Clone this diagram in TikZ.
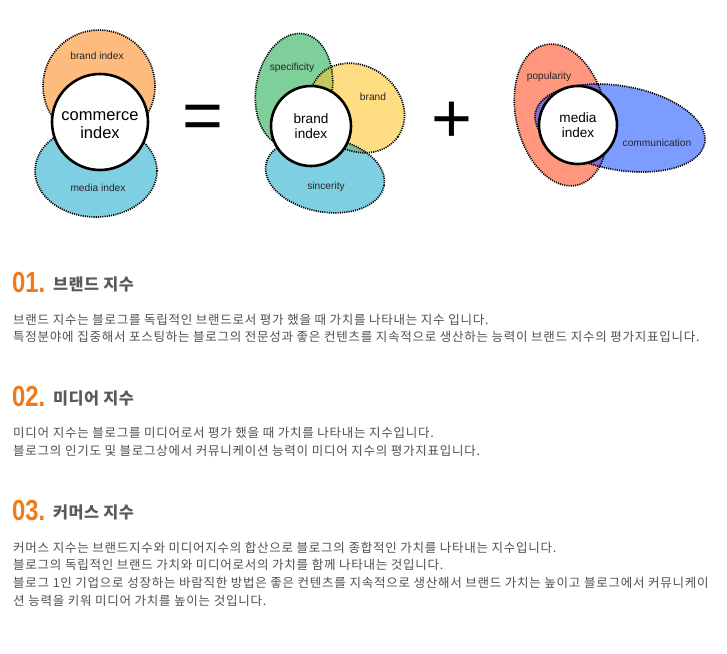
\documentclass[tikz,border=0pt]{standalone}
\usepackage{graphicx}
\usepackage{fontspec}
\setmainfont{Liberation Sans}
\newfontfamily\kr[LetterSpace=6]{Noto Sans CJK KR}
\newfontfamily\krh[LetterSpace=3]{Noto Sans CJK KR}
\definecolor{orA}{HTML}{FDBB7E}
\definecolor{blA}{HTML}{7FCFE2}
\definecolor{grB}{HTML}{7ECF9A}
\definecolor{yeB}{HTML}{FFDD82}
\definecolor{olB}{HTML}{C2C85E}
\definecolor{tlB}{HTML}{80BB9C}
\definecolor{gbB}{HTML}{7AC0B0}
\definecolor{saC}{HTML}{FF977E}
\definecolor{blC}{HTML}{7C9CFF}
\definecolor{puC}{HTML}{7D72D0}
\definecolor{numcol}{HTML}{F07A1A}
\definecolor{hdcol}{HTML}{5A5A5A}
\definecolor{bodycol}{HTML}{505050}
\begin{document}
\begin{tikzpicture}[x=1pt,y=1pt,
  dots/.style={draw=black, line width=1.7pt, dash pattern=on 1.1pt off 1.1pt},
  core/.style={draw=black, line width=2.6pt, fill=white},
  lbl/.style={font=\fontsize{10.2}{12}\selectfont, text=black!85, inner sep=0pt},
  bigc/.style={font=\fontsize{16.5}{18}\selectfont, align=center, inner sep=0pt},
  midc/.style={font=\fontsize{13.6}{15.5}\selectfont, align=center, inner sep=0pt},
  opsym/.style={font=\fontsize{70}{70}\selectfont, inner sep=0pt},
  num/.style={font=\fontsize{29}{30}\bfseries\selectfont, text=numcol, inner sep=0pt, anchor=west},
  hd/.style={font=\krh\fontsize{16.3}{18}\bfseries\selectfont, text=hdcol, inner sep=0pt, anchor=west},
  body/.style={font=\kr\fontsize{12.5}{14}\selectfont, text=bodycol, inner sep=0pt, anchor=west}
]
\useasboundingbox (0,0) rectangle (727,-653);
\fill[white] (0,0) rectangle (727,-653);

% ---------- diagram 1 ----------
\def\dAo{(99,-86) circle [radius=56pt]}
\def\dAb{(96,-171) ellipse [x radius=61pt, y radius=46pt]}
\fill[orA] \dAo;
\fill[blA] \dAb;
\draw[dots] \dAo;
\draw[dots] \dAb;
\draw[core] (100,-122) circle [radius=48pt];
\node[lbl] (lbrandindex) at (97,-56) {brand index};
\node[lbl] (lmediaindex) at (98,-188) {media index};
\node[bigc] (commerce) at (100,-125) {commerce\\index};
\node[opsym] (eq) at (203,-122) {=};

% ---------- diagram 2 ----------
\def\dBg{[rotate around={-10:(294,-90)}] (294,-90) ellipse [x radius=38pt, y radius=57pt]}
\def\dBy{[rotate around={-35:(357,-108)}] (357,-108) ellipse [x radius=50pt, y radius=42pt]}
\def\dBb{[rotate around={-10:(325,-175)}] (325,-175) ellipse [x radius=60pt, y radius=37pt]}
\path[fill=grB] \dBg;
\path[fill=yeB] \dBy;
\path[fill=blA] \dBb;
\begin{scope}
  \clip \dBg;
  \path[fill=olB] \dBy;
\end{scope}
\begin{scope}
  \clip \dBy;
  \path[fill=tlB] \dBb;
\end{scope}
\begin{scope}
  \clip \dBg;
  \path[fill=gbB] \dBb;
\end{scope}
\path[dots] \dBg;
\path[dots] \dBy;
\path[dots] \dBb;
\draw[core] (311,-126) circle [radius=40pt];
\node[lbl] (lspec) at (292,-68) {specificity};
\node[lbl] (lbrand) at (373,-97) {brand};
\node[lbl] (lsinc) at (326,-187) {sincerity};
\node[midc] (brandindex) at (311,-126) {brand\\index};
\node[opsym] (plus) at (452,-122) {+};

% ---------- diagram 3 ----------
\def\dCo{[rotate around={13:(561,-115)}] (561,-115) ellipse [x radius=45pt, y radius=72pt]}
\def\dCb{[rotate around={-10:(620,-128)}] (620,-128) ellipse [x radius=86pt, y radius=42pt]}
\path[fill=saC] \dCo;
\path[fill=blC] \dCb;
\begin{scope}
  \clip \dCo;
  \path[fill=puC] \dCb;
\end{scope}
\path[dots] \dCo;
\path[dots] \dCb;
\draw[core] (578,-125) circle [radius=39pt];
\node[lbl] (lpop) at (549,-77) {popularity};
\node[lbl] (lcomm) at (657,-143) {communication};
\node[midc] (mediaindex) at (578,-125) {media\\index};

% ---------- section 1 ----------
\node[num] (n1) at (12,-283) {\scalebox{0.82}[1]{01.}};
\node[hd] (h1) at (53,-284) {브랜드 지수};
\node[body] (b11) at (13,-320) {브랜드 지수는 블로그를 독립적인 브랜드로서 평가 했을 때 가치를 나타내는 지수 입니다.};
\node[body] (b12) at (13,-337) {특정분야에 집중해서 포스팅하는 블로그의 전문성과 좋은 컨텐츠를 지속적으로 생산하는 능력이 브랜드 지수의 평가지표입니다.};

% ---------- section 2 ----------
\node[num] (n2) at (12,-397) {\scalebox{0.82}[1]{02.}};
\node[hd] (h2) at (53,-398) {미디어 지수};
\node[body] (b21) at (13,-433) {미디어 지수는 블로그를 미디어로서 평가 했을 때 가치를 나타내는 지수입니다.};
\node[body] (b22) at (13,-451) {블로그의 인기도 및 블로그상에서 커뮤니케이션 능력이 미디어 지수의 평가지표입니다.};

% ---------- section 3 ----------
\node[num] (n3) at (12,-511) {\scalebox{0.82}[1]{03.}};
\node[hd] (h3) at (53,-512) {커머스 지수};
\node[body] (b31) at (13,-548) {커머스 지수는 브랜드지수와 미디어지수의 합산으로 블로그의 종합적인 가치를 나타내는 지수입니다.};
\node[body] (b32) at (13,-565) {블로그의 독립적인 브랜드 가치와 미디어로서의 가치를 함께 나타내는 것입니다.};
\node[body] (b33) at (13,-583) {블로그 1인 기업으로 성장하는 바람직한 방법은 좋은 컨텐츠를 지속적으로 생산해서 브랜드 가치는 높이고 블로그에서 커뮤니케이};
\node[body] (b34) at (13,-601) {션 능력을 키워 미디어 가치를 높이는 것입니다.};
\end{tikzpicture}
\end{document}
